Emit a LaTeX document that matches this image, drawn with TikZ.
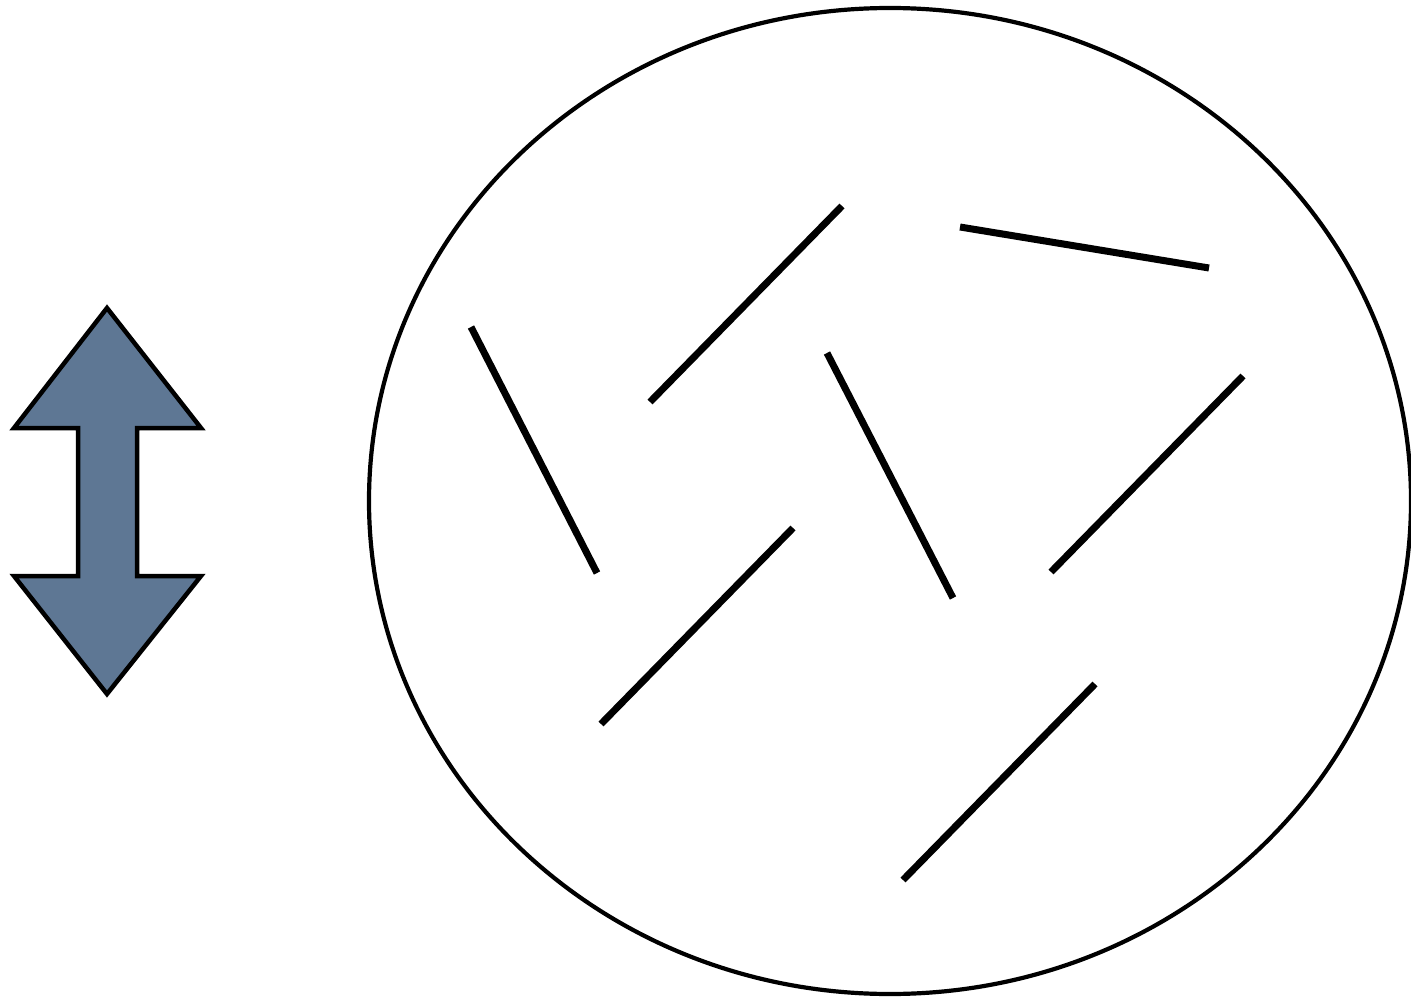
\documentclass[tikz,border=0pt]{standalone}
\usepackage{tikz}
\usetikzlibrary{positioning}
\definecolor{slate}{HTML}{5E7794}
\tikzset{
  rod/.style={
    line width = 7pt,
    black
  },
  dish/.style={
    line width = 4.2pt,
    draw = black
  },
  updown/.style={
    line width = 4.5pt,
    draw = black,
    fill = slate,
    line join = miter
  }
}

\begin{document}
\begin{tikzpicture}[x=1pt,y=-1pt]
        \useasboundingbox (0,0) rectangle (1411,1000);

        % double arrow
        \draw[updown] (107,308) -- (201,428) -- (137,428) -- (137,576) -- (201,576)
            -- (107,694) -- (14,576) -- (78,576) -- (78,428) -- (14,428) -- cycle;

        % container
        \draw[dish] (890,501) ellipse (521 and 493);

        % rods
        \draw[rod] (471,327) --++ (126,246);
        \draw[rod] (650,402) --++ (192,-196);
        \draw[rod] (960,227) --++ (249,41);
        \draw[rod] (827,353) --++ (126,245);
        \draw[rod] (1051,572) --++ (192,-196);
        \draw[rod] (601,724) --++ (192,-196);
        \draw[rod] (903,880) --++ (192,-196);
\end{tikzpicture}
\end{document}
